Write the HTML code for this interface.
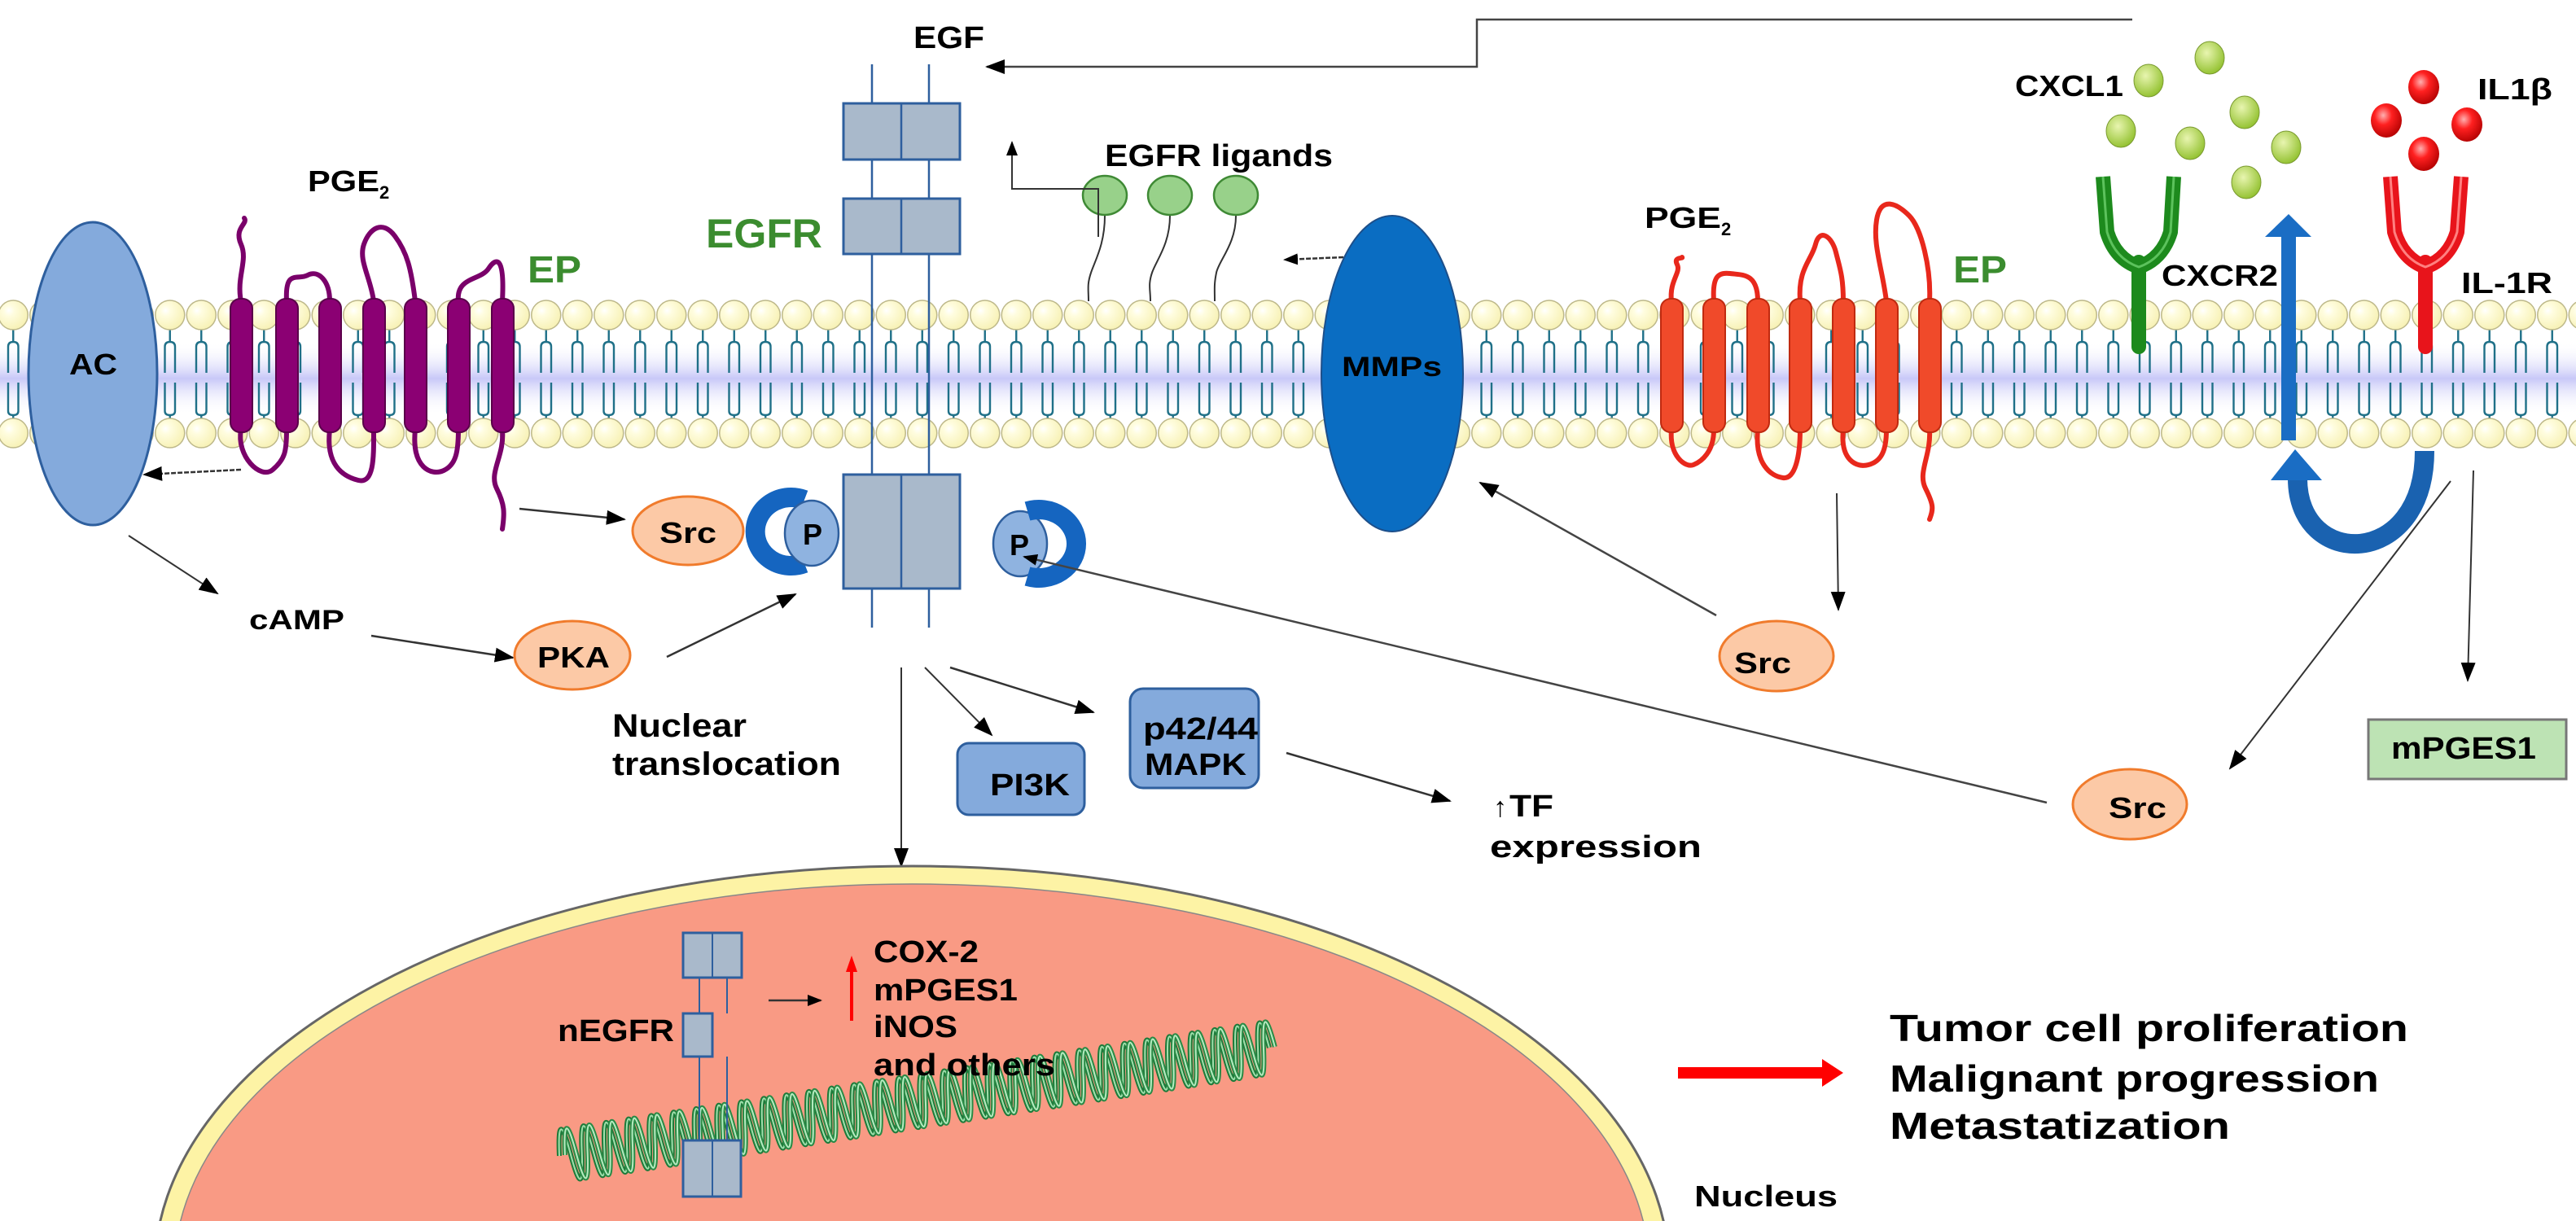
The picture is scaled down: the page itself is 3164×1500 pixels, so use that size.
<!DOCTYPE html>
<html><head><meta charset="utf-8">
<style>
html,body{margin:0;padding:0;background:#fff;width:3164px;height:1500px;overflow:hidden;}
svg{display:block;overflow:hidden;}
text{font-family:"Liberation Sans",Arial,sans-serif;font-weight:bold;fill:#000;}
</style></head>
<body>
<svg width="3164" height="1500" viewBox="0 0 3164 1500" xmlns="http://www.w3.org/2000/svg">
<defs>
  <clipPath id="frame"><rect x="0" y="0" width="3164" height="1500"/></clipPath>
  <radialGradient id="head" cx="0.35" cy="0.35" r="0.7">
    <stop offset="0" stop-color="#ffffff"/>
    <stop offset="0.25" stop-color="#fffde0"/>
    <stop offset="1" stop-color="#f7f1b4"/>
  </radialGradient>
  <linearGradient id="band" x1="0" y1="0" x2="0" y2="1">
    <stop offset="0" stop-color="#ffffff" stop-opacity="0"/>
    <stop offset="0.5" stop-color="#c8c8f8"/>
    <stop offset="1" stop-color="#ffffff" stop-opacity="0"/>
  </linearGradient>
  <radialGradient id="gdot" cx="0.4" cy="0.35" r="0.7">
    <stop offset="0" stop-color="#e8f5b0"/>
    <stop offset="1" stop-color="#8fbf2a"/>
  </radialGradient>
  <radialGradient id="rdot" cx="0.4" cy="0.35" r="0.7">
    <stop offset="0" stop-color="#ffb0b0"/>
    <stop offset="0.4" stop-color="#ff2020"/>
    <stop offset="1" stop-color="#b00000"/>
  </radialGradient>
  <pattern id="mem" patternUnits="userSpaceOnUse" x="-3" y="0" width="38.5" height="1500">
    <path d="M19.25 405 V420 M13 458 V426 Q13 420 19.25 420 Q25.5 420 25.5 426 V458 M13 470 V505 Q13 510 19.25 510 Q25.5 510 25.5 505 V470 M19.25 510 V516" stroke="#1f7088" stroke-width="2.4" fill="none"/>
    <circle cx="19.25" cy="387" r="18" fill="url(#head)" stroke="#bdb88a" stroke-width="1.5"/>
    <circle cx="19.25" cy="532" r="18" fill="url(#head)" stroke="#bdb88a" stroke-width="1.5"/>
  </pattern>
  <marker id="ah" markerUnits="userSpaceOnUse" markerWidth="24" markerHeight="18" refX="22" refY="9" orient="auto">
    <path d="M0 0 L24 9 L0 18 Z" fill="#000"/>
  </marker>
  <marker id="ahs" markerUnits="userSpaceOnUse" markerWidth="18" markerHeight="14" refX="16" refY="7" orient="auto">
    <path d="M0 0 L18 7 L0 14 Z" fill="#000"/>
  </marker>
</defs>
<g clip-path="url(#frame)">

<!-- membrane -->
<rect x="0" y="420" width="3164" height="90" fill="url(#band)"/>
<rect x="0" y="365" width="3164" height="190" fill="url(#mem)"/>

<!-- top connector line EGF -->
<path d="M2619 24 H1814 V82 H1212" fill="none" stroke="#444" stroke-width="2.5" marker-end="url(#ah)"/>
<text x="1122" y="59" font-size="38" textLength="87" lengthAdjust="spacingAndGlyphs">EGF</text>

<!-- EGFR -->
<line x1="1071" y1="79" x2="1071" y2="771" stroke="#2e5f9e" stroke-width="2.5"/>
<line x1="1141" y1="79" x2="1141" y2="771" stroke="#2e5f9e" stroke-width="2.5"/>
<g fill="#a9b9cb" stroke="#2e5f9e" stroke-width="3">
  <rect x="1036" y="127" width="143" height="69"/>
  <rect x="1036" y="244" width="143" height="68"/>
  <rect x="1036" y="583" width="143" height="140"/>
</g>
<g stroke="#2e5f9e" stroke-width="2.5">
  <line x1="1107" y1="127" x2="1107" y2="196"/>
  <line x1="1107" y1="244" x2="1107" y2="312"/>
  <line x1="1107" y1="583" x2="1107" y2="723"/>
</g>
<text x="867" y="304" font-size="50" style="fill:#3b8c2f" textLength="143" lengthAdjust="spacingAndGlyphs">EGFR</text>

<!-- AC -->
<ellipse cx="114" cy="459" rx="79" ry="186" fill="#84aadc" stroke="#2e5f9e" stroke-width="3"/>
<text x="85" y="460" font-size="36" textLength="59" lengthAdjust="spacingAndGlyphs">AC</text>

<!-- purple EP receptor -->
<g fill="none" stroke="#7a006a" stroke-width="6" stroke-linecap="round">
  <path d="M296 370 C290 340 305 320 296 300 S305 275 300 268"/>
  <path d="M352 370 C350 330 365 345 378 338 S405 345 405 370"/>
  <path d="M459 370 C455 340 440 320 447 300 S470 270 485 290 S505 330 510 370"/>
  <path d="M563 370 C560 340 590 345 600 330 S620 315 617 370"/>
  <path d="M296 528 C290 560 320 590 335 577 S352 555 352 528"/>
  <path d="M405 528 C400 570 420 585 440 590 S459 560 459 528"/>
  <path d="M510 528 C505 575 530 585 545 578 S563 555 563 528"/>
  <path d="M617 528 C620 560 600 580 610 600 S620 630 617 650"/>
</g>
<g fill="#8b0073" stroke="#5a004a" stroke-width="2">
  <rect x="283" y="367" width="27" height="164" rx="12"/>
  <rect x="339" y="367" width="27" height="164" rx="12"/>
  <rect x="392" y="367" width="27" height="164" rx="12"/>
  <rect x="446" y="367" width="27" height="164" rx="12"/>
  <rect x="497" y="367" width="27" height="164" rx="12"/>
  <rect x="550" y="367" width="27" height="164" rx="12"/>
  <rect x="604" y="367" width="27" height="164" rx="12"/>
</g>
<text x="378" y="235" font-size="36" textLength="88" lengthAdjust="spacingAndGlyphs">PGE</text>
<text x="466" y="244" font-size="22">2</text>
<text x="648" y="347" font-size="46" style="fill:#3b8c2f" textLength="66" lengthAdjust="spacingAndGlyphs">EP</text>

<!-- ligands -->
<g fill="none" stroke="#333" stroke-width="2">
  <path d="M1357 265 C1357 300 1345 320 1340 335 S1337 355 1337 370"/>
  <path d="M1437 265 C1437 300 1420 320 1415 335 S1413 355 1413 370"/>
  <path d="M1518 265 C1518 300 1497 320 1494 335 S1492 355 1492 370"/>
</g>
<g fill="#98d18a" stroke="#3f8a35" stroke-width="2.5">
  <ellipse cx="1357" cy="240" rx="27" ry="24"/>
  <ellipse cx="1437" cy="240" rx="27" ry="24"/>
  <ellipse cx="1518" cy="240" rx="27" ry="24"/>
</g>
<path d="M1349 291 V232 H1243 V175" fill="none" stroke="#333" stroke-width="2" marker-end="url(#ahs)"/>
<text x="1357" y="204" font-size="38" textLength="280" lengthAdjust="spacingAndGlyphs">EGFR ligands</text>

<!-- MMPs -->
<line x1="1698" y1="314" x2="1578" y2="319" stroke="#333" stroke-width="2.5" stroke-dasharray="6 2" marker-end="url(#ahs)"/>
<ellipse cx="1710" cy="459" rx="87" ry="194" fill="#0a6dc2" stroke="#1d4f8a" stroke-width="2"/>
<text x="1648" y="462" font-size="34" textLength="123" lengthAdjust="spacingAndGlyphs">MMPs</text>

<!-- red EP receptor -->
<g fill="none" stroke="#e8281c" stroke-width="6" stroke-linecap="round">
  <path d="M2053 370 C2050 345 2065 335 2060 325 S2068 318 2066 316"/>
  <path d="M2105 370 C2103 340 2110 334 2125 336 S2159 335 2159 370"/>
  <path d="M2211 370 C2208 330 2225 320 2230 300 S2250 290 2255 310 S2264 340 2264 370"/>
  <path d="M2317 370 C2312 330 2300 300 2305 270 S2330 250 2345 265 S2372 330 2370 370"/>
  <path d="M2053 528 C2050 560 2070 575 2080 571 S2105 555 2105 528"/>
  <path d="M2159 528 C2155 570 2175 585 2190 587 S2211 560 2211 528"/>
  <path d="M2264 528 C2260 565 2280 575 2295 571 S2317 555 2317 528"/>
  <path d="M2370 528 C2372 560 2355 580 2365 600 S2375 625 2370 638"/>
</g>
<g fill="#f04a2a" stroke="#c02a10" stroke-width="2">
  <rect x="2040" y="367" width="27" height="164" rx="12"/>
  <rect x="2092" y="367" width="27" height="164" rx="12"/>
  <rect x="2146" y="367" width="27" height="164" rx="12"/>
  <rect x="2198" y="367" width="27" height="164" rx="12"/>
  <rect x="2251" y="367" width="27" height="164" rx="12"/>
  <rect x="2304" y="367" width="27" height="164" rx="12"/>
  <rect x="2357" y="367" width="27" height="164" rx="12"/>
</g>
<text x="2020" y="280" font-size="36" textLength="94" lengthAdjust="spacingAndGlyphs">PGE</text>
<text x="2114" y="289" font-size="22">2</text>
<text x="2399" y="347" font-size="46" style="fill:#3b8c2f" textLength="66" lengthAdjust="spacingAndGlyphs">EP</text>

<!-- CXCL1 dots -->
<g fill="url(#gdot)" stroke="#7a9a30" stroke-width="1">
  <ellipse cx="2639" cy="99" rx="18" ry="20"/>
  <ellipse cx="2714" cy="71" rx="18" ry="20"/>
  <ellipse cx="2605" cy="161" rx="18" ry="20"/>
  <ellipse cx="2757" cy="138" rx="18" ry="20"/>
  <ellipse cx="2690" cy="176" rx="18" ry="20"/>
  <ellipse cx="2808" cy="181" rx="18" ry="20"/>
  <ellipse cx="2759" cy="224" rx="18" ry="20"/>
</g>
<g fill="url(#rdot)">
  <ellipse cx="2977" cy="107" rx="19" ry="21"/>
  <ellipse cx="2931" cy="148" rx="19" ry="21"/>
  <ellipse cx="3030" cy="153" rx="19" ry="21"/>
  <ellipse cx="2977" cy="189" rx="19" ry="21"/>
</g>
<text x="2475" y="118" font-size="36" textLength="133" lengthAdjust="spacingAndGlyphs">CXCL1</text>
<text x="3043" y="122" font-size="36" textLength="92" lengthAdjust="spacingAndGlyphs">IL1β</text>

<!-- Y receptors -->
<g fill="none" stroke-linecap="butt" stroke-linejoin="round">
  <path d="M2583 217 L2588 285 Q2598 318 2627 328 Q2656 318 2666 285 L2670 217" stroke="#1d8a1d" stroke-width="18"/>
  <path d="M2627 322 V426" stroke="#1d8a1d" stroke-width="18" stroke-linecap="round"/>
  <path d="M2583 217 L2588 285 Q2598 318 2627 328 Q2656 318 2666 285 L2670 217" stroke="#5cc25c" stroke-width="3"/>
  <path d="M2936 217 L2941 285 Q2951 318 2979 328 Q3008 318 3018 285 L3023 217" stroke="#e8141b" stroke-width="18"/>
  <path d="M2979 322 V426" stroke="#e8141b" stroke-width="18" stroke-linecap="round"/>
  <path d="M2936 217 L2941 285 Q2951 318 2979 328 Q3008 318 3018 285 L3023 217" stroke="#ff8080" stroke-width="3"/>
</g>
<text x="2655" y="351" font-size="36" textLength="143" lengthAdjust="spacingAndGlyphs">CXCR2</text>
<text x="3023" y="360" font-size="36" textLength="112" lengthAdjust="spacingAndGlyphs">IL-1R</text>

<!-- blue vertical arrow -->
<rect x="2802" y="289" width="18" height="252" fill="#1a6dc4"/>
<polygon points="2782,291 2811,263 2839,291" fill="#1a6dc4"/>
<!-- curved arrow -->
<path d="M2978 554 C2978 700 2822 700 2822 588" fill="none" stroke="#1a62b0" stroke-width="24"/>
<polygon points="2789,590 2819,552 2852,590" fill="#1a6dc4"/>

<!-- Src left / P -->
<line x1="296" y1="577" x2="177" y2="583" stroke="#333" stroke-width="2.5" stroke-dasharray="6 2" marker-end="url(#ah)"/>
<line x1="638" y1="625" x2="767" y2="638" stroke="#333" stroke-width="2.5" marker-end="url(#ah)"/>
<ellipse cx="845" cy="652" rx="68" ry="42" fill="#fcc9a6" stroke="#f07b2c" stroke-width="3"/>
<text x="810" y="667" font-size="36" textLength="70" lengthAdjust="spacingAndGlyphs">Src</text>
<path d="M988 614 A44 42 0 1 0 988 692" fill="none" stroke="#1565c0" stroke-width="24"/>
<ellipse cx="997" cy="655" rx="33" ry="40" fill="#8fb3e0" stroke="#2e5f9e" stroke-width="2.5"/>
<text x="986" y="669" font-size="36">P</text>

<ellipse cx="1253" cy="668" rx="33" ry="40" fill="#8fb3e0" stroke="#2e5f9e" stroke-width="2.5"/>
<text x="1240" y="682" font-size="36">P</text>
<path d="M1262 628 A46 42 0 1 1 1262 708" fill="none" stroke="#1565c0" stroke-width="24"/>

<!-- long line Src right -> P -->
<line x1="2514" y1="986" x2="1258" y2="684" stroke="#444" stroke-width="2.5" marker-end="url(#ahs)"/>
<!-- Src middle -> MMPs -->
<line x1="2108" y1="756" x2="1818" y2="593" stroke="#444" stroke-width="2.5" marker-end="url(#ah)"/>
<!-- red receptor -> Src middle -->
<line x1="2256" y1="606" x2="2258" y2="749" stroke="#333" stroke-width="2" marker-end="url(#ah)"/>
<!-- IL-1R -> Src right, mPGES1 -->
<line x1="3010" y1="591" x2="2739" y2="944" stroke="#333" stroke-width="2" marker-end="url(#ah)"/>
<line x1="3038" y1="578" x2="3031" y2="836" stroke="#333" stroke-width="2" marker-end="url(#ah)"/>

<ellipse cx="2182" cy="806" rx="70" ry="43" fill="#fcc9a6" stroke="#f07b2c" stroke-width="3"/>
<text x="2130" y="827" font-size="36" textLength="70" lengthAdjust="spacingAndGlyphs">Src</text>
<ellipse cx="2616" cy="988" rx="70" ry="43" fill="#fcc9a6" stroke="#f07b2c" stroke-width="3"/>
<text x="2590" y="1005" font-size="36" textLength="71" lengthAdjust="spacingAndGlyphs">Src</text>
<rect x="2909" y="884" width="243" height="73" fill="#bde3b4" stroke="#777" stroke-width="3"/>
<text x="2937" y="932" font-size="38" textLength="178" lengthAdjust="spacingAndGlyphs">mPGES1</text>

<!-- cAMP / PKA -->
<line x1="158" y1="658" x2="267" y2="729" stroke="#333" stroke-width="2" marker-end="url(#ah)"/>
<text x="306" y="773" font-size="34" textLength="117" lengthAdjust="spacingAndGlyphs">cAMP</text>
<line x1="456" y1="781" x2="630" y2="808" stroke="#333" stroke-width="2.5" marker-end="url(#ah)"/>
<ellipse cx="703" cy="805" rx="71" ry="42" fill="#fcc9a6" stroke="#f07b2c" stroke-width="3"/>
<text x="660" y="820" font-size="36" textLength="89" lengthAdjust="spacingAndGlyphs">PKA</text>
<line x1="819" y1="807" x2="977" y2="730" stroke="#333" stroke-width="2.5" marker-end="url(#ah)"/>
<text x="752" y="905" font-size="40" textLength="165" lengthAdjust="spacingAndGlyphs">Nuclear</text>
<text x="752" y="952" font-size="40" textLength="281" lengthAdjust="spacingAndGlyphs">translocation</text>

<!-- downstream -->
<line x1="1107" y1="820" x2="1107" y2="1064" stroke="#333" stroke-width="2" marker-end="url(#ah)"/>
<line x1="1136" y1="820" x2="1218" y2="903" stroke="#333" stroke-width="2" marker-end="url(#ah)"/>
<line x1="1167" y1="820" x2="1343" y2="875" stroke="#333" stroke-width="2.5" marker-end="url(#ah)"/>
<rect x="1176" y="913" width="156" height="88" rx="14" fill="#84aadc" stroke="#2e5f9e" stroke-width="3"/>
<text x="1216" y="977" font-size="38" textLength="98" lengthAdjust="spacingAndGlyphs">PI3K</text>
<rect x="1388" y="846" width="158" height="122" rx="16" fill="#84aadc" stroke="#2e5f9e" stroke-width="3"/>
<text x="1404" y="908" font-size="38" textLength="141" lengthAdjust="spacingAndGlyphs">p42/44</text>
<text x="1406" y="952" font-size="38" textLength="125" lengthAdjust="spacingAndGlyphs">MAPK</text>
<line x1="1580" y1="925" x2="1781" y2="984" stroke="#333" stroke-width="2.5" marker-end="url(#ah)"/>
<text x="1834" y="1003" font-size="34" style="font-weight:normal">↑</text>
<text x="1854" y="1003" font-size="38" textLength="54" lengthAdjust="spacingAndGlyphs">TF</text>
<text x="1830" y="1053" font-size="38" textLength="260" lengthAdjust="spacingAndGlyphs">expression</text>

<!-- nucleus -->
<ellipse cx="1120" cy="1560" rx="930" ry="496" fill="#fdf3a5" stroke="#666" stroke-width="3"/>
<ellipse cx="1120" cy="1562" rx="906" ry="476" fill="#f99a84" stroke="#888" stroke-width="1.5"/>

<!-- DNA -->
<g transform="translate(687,1420) rotate(-8.67)" fill="none">
  <path d="M0 0 q7 -64 14 0 t14 0 t14 0 t14 0 t14 0 t14 0 t14 0 t14 0 t14 0 t14 0 t14 0 t14 0 t14 0 t14 0 t14 0 t14 0 t14 0 t14 0 t14 0 t14 0 t14 0 t14 0 t14 0 t14 0 t14 0 t14 0 t14 0 t14 0 t14 0 t14 0 t14 0 t14 0 t14 0 t14 0 t14 0 t14 0 t14 0 t14 0 t14 0 t14 0 t14 0 t14 0 t14 0 t14 0 t14 0 t14 0 t14 0 t14 0 t14 0 t14 0 t14 0 t14 0 t14 0 t14 0 t14 0 t14 0 t14 0 t14 0 t14 0 t14 0 t14 0 t14 0 t14 0" stroke="#1e7a3a" stroke-width="6"/>
  <path d="M0 0 q7 -64 14 0 t14 0 t14 0 t14 0 t14 0 t14 0 t14 0 t14 0 t14 0 t14 0 t14 0 t14 0 t14 0 t14 0 t14 0 t14 0 t14 0 t14 0 t14 0 t14 0 t14 0 t14 0 t14 0 t14 0 t14 0 t14 0 t14 0 t14 0 t14 0 t14 0 t14 0 t14 0 t14 0 t14 0 t14 0 t14 0 t14 0 t14 0 t14 0 t14 0 t14 0 t14 0 t14 0 t14 0 t14 0 t14 0 t14 0 t14 0 t14 0 t14 0 t14 0 t14 0 t14 0 t14 0 t14 0 t14 0 t14 0 t14 0 t14 0 t14 0 t14 0 t14 0 t14 0" stroke="#9fe0ac" stroke-width="2"/>
  <path transform="translate(7,0)" d="M0 0 q7 -64 14 0 t14 0 t14 0 t14 0 t14 0 t14 0 t14 0 t14 0 t14 0 t14 0 t14 0 t14 0 t14 0 t14 0 t14 0 t14 0 t14 0 t14 0 t14 0 t14 0 t14 0 t14 0 t14 0 t14 0 t14 0 t14 0 t14 0 t14 0 t14 0 t14 0 t14 0 t14 0 t14 0 t14 0 t14 0 t14 0 t14 0 t14 0 t14 0 t14 0 t14 0 t14 0 t14 0 t14 0 t14 0 t14 0 t14 0 t14 0 t14 0 t14 0 t14 0 t14 0 t14 0 t14 0 t14 0 t14 0 t14 0 t14 0 t14 0 t14 0 t14 0 t14 0 t14 0" stroke="#2a8a46" stroke-width="6"/>
  <path transform="translate(7,0)" d="M0 0 q7 -64 14 0 t14 0 t14 0 t14 0 t14 0 t14 0 t14 0 t14 0 t14 0 t14 0 t14 0 t14 0 t14 0 t14 0 t14 0 t14 0 t14 0 t14 0 t14 0 t14 0 t14 0 t14 0 t14 0 t14 0 t14 0 t14 0 t14 0 t14 0 t14 0 t14 0 t14 0 t14 0 t14 0 t14 0 t14 0 t14 0 t14 0 t14 0 t14 0 t14 0 t14 0 t14 0 t14 0 t14 0 t14 0 t14 0 t14 0 t14 0 t14 0 t14 0 t14 0 t14 0 t14 0 t14 0 t14 0 t14 0 t14 0 t14 0 t14 0 t14 0 t14 0 t14 0 t14 0" stroke="#b6ecc0" stroke-width="2"/>
</g>

<!-- nEGFR -->
<g stroke="#2e5f9e" stroke-width="2">
  <line x1="859" y1="1201" x2="859" y2="1401"/>
  <line x1="893" y1="1201" x2="893" y2="1245"/>
  <line x1="893" y1="1298" x2="893" y2="1401"/>
</g>
<g fill="#a9b9cb" stroke="#2e5f9e" stroke-width="3">
  <rect x="839" y="1146" width="72" height="55"/>
  <rect x="839" y="1245" width="36" height="53"/>
  <rect x="839" y="1401" width="71" height="69"/>
</g>
<g stroke="#2e5f9e" stroke-width="2">
  <line x1="875" y1="1146" x2="875" y2="1201"/>
  <line x1="875" y1="1401" x2="875" y2="1470"/>
</g>
<text x="685" y="1279" font-size="38" textLength="143" lengthAdjust="spacingAndGlyphs">nEGFR</text>
<line x1="944" y1="1229" x2="1008" y2="1229" stroke="#333" stroke-width="2.5" marker-end="url(#ahs)"/>
<line x1="1046" y1="1254" x2="1046" y2="1192" stroke="#f00" stroke-width="4"/>
<polygon points="1039,1194 1046,1174 1053,1194" fill="#f00"/>
<text x="1073" y="1182" font-size="38" textLength="129" lengthAdjust="spacingAndGlyphs">COX-2</text>
<text x="1073" y="1229" font-size="38" textLength="177" lengthAdjust="spacingAndGlyphs">mPGES1</text>
<text x="1073" y="1274" font-size="38" textLength="103" lengthAdjust="spacingAndGlyphs">iNOS</text>
<text x="1073" y="1321" font-size="38" textLength="223" lengthAdjust="spacingAndGlyphs">and others</text>
<text x="2081" y="1482" font-size="36" textLength="176" lengthAdjust="spacingAndGlyphs">Nucleus</text>

<!-- outcomes -->
<rect x="2061" y="1311" width="180" height="14" fill="#f00"/>
<polygon points="2238,1301 2264,1318 2238,1335" fill="#f00"/>
<text x="2321" y="1279" font-size="46" textLength="637" lengthAdjust="spacingAndGlyphs">Tumor cell proliferation</text>
<text x="2321" y="1341" font-size="46" textLength="601" lengthAdjust="spacingAndGlyphs">Malignant progression</text>
<text x="2321" y="1399" font-size="46" textLength="418" lengthAdjust="spacingAndGlyphs">Metastatization</text>
</g>
</svg>
</body></html>
